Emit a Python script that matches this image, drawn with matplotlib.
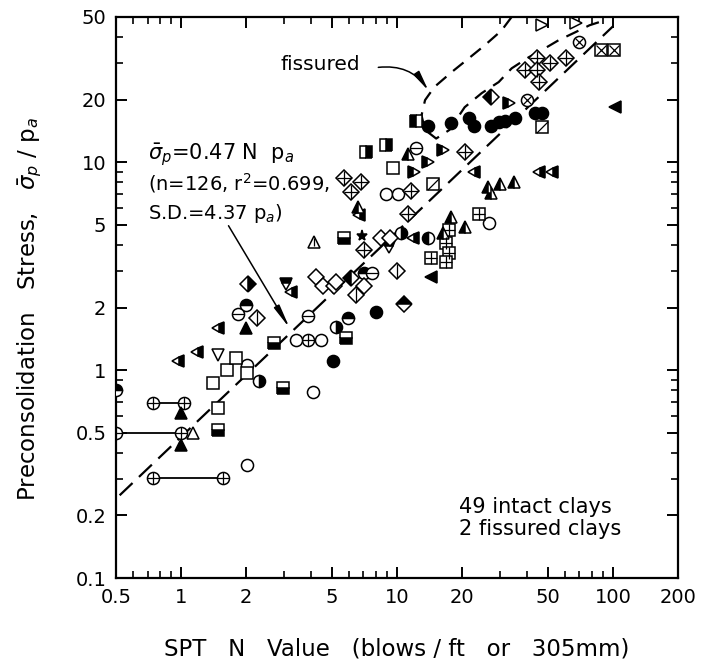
import matplotlib
matplotlib.use("Agg")
import matplotlib.pyplot as plt
from matplotlib.path import Path
from matplotlib.ticker import FixedLocator, NullFormatter
import numpy as np

plt.rcParams['font.family'] = ['DejaVu Sans']
plt.rcParams['mathtext.fontset'] = 'dejavusans'

# ---- data (N = SPT blows, s = sigma_p / p_a) ----
open_circle_n = [2.03, 4.08, 2.03, 3.4, 4.44, 8.9, 10.1, 26.6]
open_circle_s = [0.349, 0.784, 1.06, 1.39, 1.39, 7.0, 7.0, 5.11]

filled_circle_n = [5.05, 8.0, 14.0, 17.8, 21.6, 22.7, 27.2, 29.6, 31.6, 35.2, 43.6, 47.0]
filled_circle_s = [1.11, 1.90, 15.0, 15.4, 16.3, 14.9, 15.0, 15.6, 15.8, 16.3, 17.3, 17.2]

half_circle_top_n = [0.5, 2.0, 5.93, 7.05]
half_circle_top_s = [0.80, 2.05, 1.78, 2.92]
half_circle_right_n = [2.29, 5.22, 10.5]
half_circle_right_s = [0.89, 1.61, 4.55]
half_circle_left_n = [14.0]
half_circle_left_s = [4.34]

circle_minus_n = [1.83, 3.87, 7.7, 12.3]
circle_minus_s = [1.87, 1.83, 2.92, 11.7]

# circle-plus points joined by a range line (low N, high N, sigma)
range_lo_n = [0.74, 0.5, 0.74]
range_hi_n = [1.03, 1.0, 1.56]
range_s = [0.694, 0.498, 0.303]
circle_plus_n = [3.87]
circle_plus_s = [1.39]

circle_x_n = [40.0, 70.0]
circle_x_s = [20.0, 37.7]

open_square_n = [1.49, 1.4, 1.64, 1.79, 2.03, 9.6]
open_square_s = [0.657, 0.866, 1.0, 1.14, 0.968, 9.4]

half_square_bottom_n = [1.49, 2.96, 2.69, 5.81, 5.69]
half_square_bottom_s = [0.515, 0.82, 1.35, 1.42, 4.30]
half_square_right_n = [7.2, 8.9]
half_square_right_s = [11.2, 12.1]
half_square_left_n = [12.3]
half_square_left_s = [15.8]

grid_square_n = [17.4, 16.9, 17.4, 16.9, 23.9, 14.4]
grid_square_s = [4.70, 4.08, 3.65, 3.30, 5.66, 3.46]

square_x_n = [88.0, 101.0]
square_x_s = [34.5, 34.5]

square_diag_n = [14.7, 47.0]
square_diag_s = [7.9, 14.7]

grid_diamond_n = [5.69, 6.13, 6.83, 11.6, 11.3, 7.05, 20.6, 39.1, 44.6, 44.6, 45.6, 51.3, 60.8]
grid_diamond_s = [8.4, 7.2, 8.0, 7.3, 5.66, 3.78, 11.2, 27.7, 31.6, 27.7, 24.2, 29.9, 31.6]

left_tri_half_n = [0.97, 1.19, 1.49, 11.9, 22.7, 45.6, 52.5, 6.68, 3.22]
left_tri_half_s = [1.11, 1.22, 1.59, 4.34, 8.95, 8.95, 8.95, 5.55, 2.37]

left_tri_filled_n = [102.0, 14.4]
left_tri_filled_s = [18.4, 2.79]

right_tri_open_n = [47.0, 67.6]
right_tri_open_s = [45.6, 46.5]
right_tri_half_n = [16.4, 14.0, 12.0, 33.0]
right_tri_half_s = [11.4, 10.0, 8.95, 19.2]

up_tri_open_n = [1.14]
up_tri_open_s = [0.498]
up_tri_line_n = [4.12]
up_tri_line_s = [4.12]
up_tri_filled_n = [1.0, 1.0, 2.0]
up_tri_filled_s = [0.621, 0.436, 1.59]
up_tri_half_n = [26.3, 29.9, 34.8, 27.2, 17.8, 20.6, 16.4, 6.61, 11.3]
up_tri_half_s = [7.6, 7.9, 8.0, 7.1, 5.44, 4.87, 4.55, 6.06, 10.9]

down_tri_open_n = [1.49]
down_tri_open_s = [1.18]
down_tri_filled_n = [9.2, 3.06]
down_tri_filled_s = [3.9, 2.61]

open_diamond_n = [4.21, 4.54, 5.1, 8.45, 9.3, 5.22, 7.05]
open_diamond_s = [2.79, 2.55, 2.55, 4.34, 4.30, 2.66, 2.55]
half_diamond_right_n = [2.05]
half_diamond_right_s = [2.6]
half_diamond_left_n = [6.13, 27.2]
half_diamond_left_s = [2.77, 20.5]
half_diamond_top_n = [10.8]
half_diamond_top_s = [2.09]
diamond_line_n = [2.26, 10.0, 6.47]
diamond_line_s = [1.78, 3.0, 2.29]

star_n = [6.9]
star_s = [4.44]

# regression line and fissured envelope
reg_n = [0.52, 100.0]
reg_s = [0.25, 45.0]
env_n = [34, 30.5, 25.5, 21.5, 17.9, 14.9, 13.5, 13.0, 13.5, 15.2, 17.5, 20.6, 24.7,
         29.6, 34, 40.8, 48.4, 56, 67, 78, 92]
env_s = [50, 43, 36.5, 31.6, 27.1, 23, 19.9, 16.8, 14.3, 13.0, 14.3, 18.4, 21.5,
         24.3, 28.3, 32, 35.3, 38.6, 42.2, 45.6, 48.2]

x_ticks = [0.5, 1, 2, 5, 10, 20, 50, 100, 200]
y_ticks = [0.1, 0.2, 0.5, 1, 2, 5, 10, 20, 50]

fig = plt.figure(figsize=(7.05, 6.64), dpi=100)
ax = fig.add_axes([0.1645, 0.1295, 0.797, 0.845])
ax.set_xscale('log')
ax.set_yscale('log')
ax.set_xlim(0.5, 200)
ax.set_ylim(0.1, 50)

diag = Path([(-1, -1), (1, 1)], [Path.MOVETO, Path.LINETO])


def mk(n, s, marker, fill='white', fs='full', over=None, ms=8.7, oms=None):
    ax.plot(n, s, ls='none', marker=marker, ms=ms, mfc=fill, mfcalt='white',
            fillstyle=fs, mec='black', mew=1.1, zorder=3)
    if over is not None:
        ax.plot(n, s, ls='none', marker=over, ms=oms or ms * 0.85,
                mec='black', mew=0.9, zorder=4)


# dashed lines
ax.plot(reg_n, reg_s, color='black', lw=1.6, dashes=(8, 4), zorder=2)
ax.plot(env_n, env_s, color='black', lw=1.6, dashes=(6, 4), zorder=2)

# range bars
for lo, hi, s in zip(range_lo_n, range_hi_n, range_s):
    ax.plot([lo, hi], [s, s], color='black', lw=1.3, zorder=2)
mk(range_lo_n + range_hi_n, range_s + range_s, 'o', over='+', oms=8.7)
mk(circle_plus_n, circle_plus_s, 'o', over='+', oms=8.7)

mk(open_circle_n, open_circle_s, 'o')
mk(filled_circle_n, filled_circle_s, 'o', fill='black')
mk(half_circle_top_n, half_circle_top_s, 'o', fill='black', fs='top')
mk(half_circle_right_n, half_circle_right_s, 'o', fill='black', fs='right')
mk(half_circle_left_n, half_circle_left_s, 'o', fill='black', fs='left')
mk(circle_minus_n, circle_minus_s, 'o', over='_', oms=8.7)
mk(circle_x_n, circle_x_s, 'o', over='x', oms=6)

mk(open_square_n, open_square_s, 's', ms=8.2)
mk(half_square_bottom_n, half_square_bottom_s, 's', fill='black', fs='bottom', ms=8.2)
mk(half_square_right_n, half_square_right_s, 's', fill='black', fs='right', ms=8.2)
mk(half_square_left_n, half_square_left_s, 's', fill='black', fs='left', ms=8.2)
mk(grid_square_n, grid_square_s, 's', over='+', ms=8.2, oms=8.2)
mk(square_x_n, square_x_s, 's', over='x', ms=8.2, oms=7.5)
mk(square_diag_n, square_diag_s, 's', over=diag, ms=8.2, oms=8.2)

mk(grid_diamond_n, grid_diamond_s, 'D', over='+', ms=8.2, oms=10.5)

mk(left_tri_half_n, left_tri_half_s, '<', fill='black', fs='right')
mk(left_tri_filled_n, left_tri_filled_s, '<', fill='black')
mk(right_tri_open_n, right_tri_open_s, '>')
mk(right_tri_half_n, right_tri_half_s, '>', fill='black', fs='left')
mk(up_tri_open_n, up_tri_open_s, '^')
mk(up_tri_line_n, up_tri_line_s, '^', over='|', oms=6)
mk(up_tri_filled_n, up_tri_filled_s, '^', fill='black')
mk(up_tri_half_n, up_tri_half_s, '^', fill='black', fs='left')
mk(down_tri_open_n, down_tri_open_s, 'v')
mk(down_tri_filled_n, down_tri_filled_s, 'v', fill='black', fs='top')

mk(open_diamond_n, open_diamond_s, 'D', ms=8.2)
mk(half_diamond_right_n, half_diamond_right_s, 'D', fill='black', fs='right', ms=8.2)
mk(half_diamond_left_n, half_diamond_left_s, 'D', fill='black', fs='left', ms=8.2)
mk(half_diamond_top_n, half_diamond_top_s, 'D', fill='black', fs='top', ms=8.2)
mk(diamond_line_n, diamond_line_s, 'D', over='|', ms=8.2, oms=10.5)
mk(star_n, star_s, '*', fill='black', ms=8)

# text and arrows
ax.text(0.7, 10.8, r'$\bar{\sigma}_p$=0.47 N  p$_a$', fontsize=15, va='center')
ax.text(0.7, 7.9, r'(n=126, r$^2$=0.699,', fontsize=14, va='center')
ax.text(0.7, 5.66, r'S.D.=4.37 p$_a$)', fontsize=14, va='center')
ax.annotate('', xy=(3.19, 1.59), xytext=(1.66, 4.95),
            arrowprops=dict(arrowstyle='-|>,head_length=1.4,head_width=0.18',
                            color='black', lw=1.1, shrinkA=0, shrinkB=0))

ax.text(4.4, 29.4, 'fissured', fontsize=14.5, ha='center', va='center')
ax.annotate('', xy=(14.0, 22.1), xytext=(8.2, 28.6),
            arrowprops=dict(arrowstyle='-|>,head_length=1.2,head_width=0.2',
                            connectionstyle='arc3,rad=-0.3',
                            color='black', lw=1.1, shrinkA=0, shrinkB=0))

ax.text(19.4, 0.195, '49 intact clays\n2 fissured clays', fontsize=15,
        va='center', ha='left', linespacing=1.15)

# axes styling
for sp in ax.spines.values():
    sp.set_linewidth(1.6)
ax.xaxis.set_major_locator(FixedLocator(x_ticks))
ax.yaxis.set_major_locator(FixedLocator(y_ticks))
ax.set_xticklabels(['0.5', '1', '2', '5', '10', '20', '50', '100', '200'])
ax.set_yticklabels(['0.1', '0.2', '0.5', '1', '2', '5', '10', '20', '50'])
ax.xaxis.set_minor_locator(FixedLocator([0.6, 0.7, 0.8, 0.9, 3, 4, 6, 7, 8, 9,
                                         30, 40, 60, 70, 80, 90]))
ax.yaxis.set_minor_locator(FixedLocator([0.3, 0.4, 0.6, 0.7, 0.8, 0.9, 3, 4, 6, 7, 8, 9,
                                         30, 40]))
ax.xaxis.set_minor_formatter(NullFormatter())
ax.yaxis.set_minor_formatter(NullFormatter())
ax.tick_params(which='major', direction='in', length=8, width=1.4, labelsize=14,
               top=True, right=True, pad=7)
ax.tick_params(which='minor', direction='in', length=5, width=1.2, top=True, right=True)

ax.set_xlabel('SPT   N   Value   (blows / ft   or   305mm)', fontsize=16.5, labelpad=22)
ax.set_ylabel(r'Preconsolidation   Stress,   $\bar{\sigma}_p$ / p$_a$', fontsize=16.5)
ax.yaxis.set_label_coords(-0.128, 0.48)

fig.savefig('out.png', dpi=100)
